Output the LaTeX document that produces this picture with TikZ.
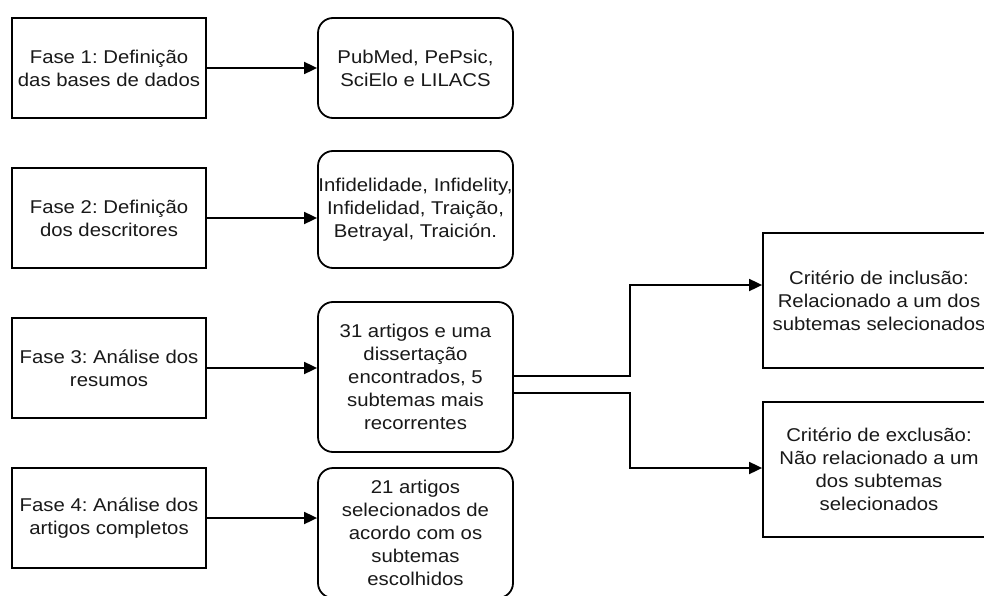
\documentclass[tikz,border=0pt]{standalone}
\usepackage{fontspec}
\setmainfont[FakeStretch=1.1]{Liberation Sans}
\usetikzlibrary{arrows.meta,calc}
\frenchspacing
\begin{document}
\begin{tikzpicture}[x=1pt,y=-1pt,
  box/.style={draw=black,line width=1.8pt,inner sep=0pt,align=center,
    font=\frenchspacing\fontsize{18.5}{23}\selectfont,text=black!90},
  phase/.style={box,minimum width=194pt,minimum height=100pt},
  res/.style={box,rounded corners=15pt,minimum width=195pt},
  crit/.style={box,minimum width=232pt,minimum height=135pt},
  arr/.style={line width=1.8pt,-{Triangle[length=13pt,width=12pt]}}]
\useasboundingbox (0,0) rectangle (984,596);
\clip (0,0) rectangle (984,596);
\fill[white] (0,0) rectangle (984,596);
\node[phase] (F1) at (109,68) {Fase 1: Definição\\das bases de dados};
\node[phase] (F2) at (109,218) {Fase 2: Definição\\dos descritores};
\node[phase] (F3) at (109,368) {Fase 3: Análise dos\\resumos};
\node[phase] (F4) at (109,518) {Fase 4: Análise dos\\artigos completos};
\node[res,minimum height=100pt] (R1) at (415.5,68) {PubMed, PePsic,\\SciElo e LILACS};
\node[res,minimum height=117pt] (R2) at (415.5,209.5) {Infidelidade, Infidelity,\\Infidelidad, Traição,\\Betrayal, Traición.};
\node[res,minimum height=150pt] (R3) at (415.5,377) {31 artigos e uma\\dissertação\\encontrados, 5\\subtemas mais\\recorrentes};
\node[res,minimum height=130pt] (R4) at (415.5,533) {21 artigos\\selecionados de\\acordo com os\\subtemas\\escolhidos};
\node[crit] (Inc) at (879,300.5) {Critério de inclusão:\\Relacionado a um dos\\subtemas selecionados};
\node[crit] (Exc) at (879,469.5) {Critério de exclusão:\\Não relacionado a um\\dos subtemas\\selecionados};
\draw[arr] (F1.east) -- (F1.east -| R1.west);
\draw[arr] (F2.east) -- (F2.east -| R2.west);
\draw[arr] (F3.east) -- (F3.east -| R3.west);
\draw[arr] (F4.east) -- (F4.east -| R4.west);
\coordinate (b1) at ($(R3.east)+(0,-1)$);
\coordinate (b2) at ($(R3.east)+(0,16)$);
\draw[arr] (b1) -- (b1 -| 630,0) |- ($(Inc.west)+(0,-15.5)$);
\draw[arr] (b2) -- (b2 -| 630,0) |- ($(Exc.west)+(0,-1.5)$);
\end{tikzpicture}
\end{document}
